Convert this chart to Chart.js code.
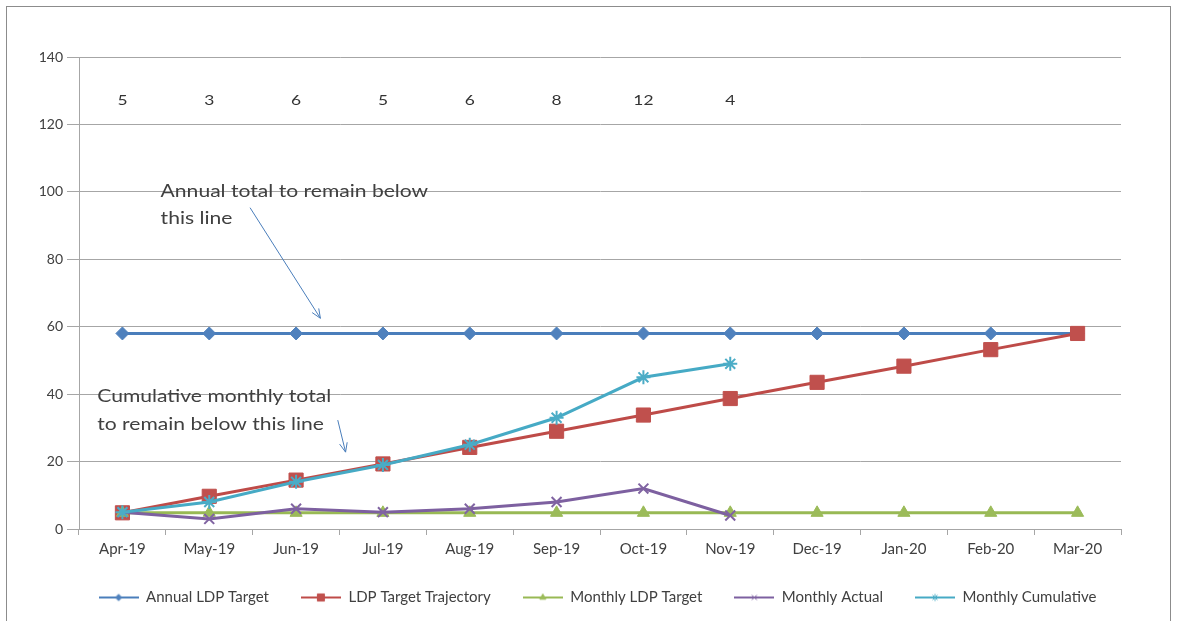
<!DOCTYPE html>
<html>
<head>
<meta charset="utf-8">
<script src="https://cdn.jsdelivr.net/npm/chart.js@4/dist/chart.umd.min.js"></script>
<style>
    html, body { margin: 0; padding: 0; background: #fff; }
    #wrap { position: absolute; left: 0; top: 0; width: 1177px; height: 621px; }
</style>
</head>
<body>
<div id="wrap"><canvas id="ldpChart" width="1177" height="621"></canvas></div>
<script>
const months = ['Apr-19', 'May-19', 'Jun-19', 'Jul-19', 'Aug-19', 'Sep-19',
    'Oct-19', 'Nov-19', 'Dec-19', 'Jan-20', 'Feb-20', 'Mar-20'];
const annualTarget = [58, 58, 58, 58, 58, 58, 58, 58, 58, 58, 58, 58];
const targetTrajectory = [4.8, 9.7, 14.5, 19.3, 24.2, 29, 33.8, 38.7, 43.5, 48.3, 53.2, 58];
const monthlyTarget = [4.8, 4.8, 4.8, 4.8, 4.8, 4.8, 4.8, 4.8, 4.8, 4.8, 4.8, 4.8];
const monthlyActual = [5, 3, 6, 5, 6, 8, 12, 4];
const monthlyCumulative = [5, 8, 14, 19, 25, 33, 45, 49];
const yTicks = [0, 20, 40, 60, 80, 100, 120, 140];
const countRowValue = 127;

const FONT = 'Lato, "Open Sans", sans-serif';
const TEXT = '#404040';
const GRID = '#a6a6a6';
const STRETCH = 1.24; // the reference text is drawn a little wide

const series = [
    { label: 'Annual LDP Target', data: annualTarget, line: '#4A7EBB', fill: '#4F81BD', style: 'rectRot', r: 6.5 },
    { label: 'LDP Target Trajectory', data: targetTrajectory, line: '#BE4B48', fill: '#C0504D', style: 'rect', r: 10 },
    { label: 'Monthly LDP Target', data: monthlyTarget, line: '#98B954', fill: '#9BBB59', style: 'triangle', r: 7 },
    { label: 'Monthly Actual', data: monthlyActual, line: '#7D60A0', fill: '#8064A2', style: 'crossRot', r: 7 },
    { label: 'Monthly Cumulative', data: monthlyCumulative, line: '#46AAC5', fill: '#4BACC6', style: 'star', r: 7 }
];

// small line+marker icon for the legend, like the spreadsheet legend
function legendIcon(s) {
    const c = document.createElement('canvas');
    c.width = 40;
    c.height = 12;
    const ctx = c.getContext('2d');
    ctx.strokeStyle = s.line;
    ctx.lineWidth = 2;
    ctx.beginPath();
    ctx.moveTo(0, 6);
    ctx.lineTo(40, 6);
    ctx.stroke();
    ctx.fillStyle = s.fill;
    ctx.strokeStyle = s.fill;
    ctx.lineWidth = 1;
    Chart.helpers.drawPoint(ctx, { pointStyle: s.style, radius: s.r * 0.5, rotation: 0, borderWidth: 1 }, 20, 6);
    return c;
}

function wideText(ctx, str, x, y, align) {
    ctx.save();
    ctx.translate(x, y);
    ctx.scale(STRETCH, 1);
    ctx.textAlign = align;
    ctx.fillText(str, 0, 0);
    ctx.restore();
}

// count row, annotations, arrows and outer frame
const annotations = {
    id: 'annotations',
    afterLayout(chart) {
        // legend sits centred under the whole frame, not just the plot
        chart.legend.left += 37;
        chart.legend.right += 37;
    },
    beforeDraw(chart) {
        const ctx = chart.ctx;
        ctx.save();
        ctx.strokeStyle = '#8c8c8c';
        ctx.lineWidth = 1;
        ctx.strokeRect(6.5, 6.5, 1164, 700);
        ctx.restore();
    },
    afterDatasetsDraw(chart) {
        const ctx = chart.ctx;
        const x = chart.scales.x;
        const y = chart.scales.y;
        ctx.save();
        ctx.fillStyle = '#333';
        ctx.font = '14px ' + FONT;
        ctx.textBaseline = 'middle';
        monthlyActual.forEach((v, i) => {
            wideText(ctx, String(v), x.getPixelForValue(i), y.getPixelForValue(countRowValue), 'center');
        });

        ctx.fillStyle = TEXT;
        ctx.font = '17px ' + FONT;
        wideText(ctx, 'Annual total to remain below', x.getPixelForValue(0.44), y.getPixelForValue(100), 'left');
        wideText(ctx, 'this line', x.getPixelForValue(0.44), y.getPixelForValue(92), 'left');
        wideText(ctx, 'Cumulative monthly total', x.getPixelForValue(-0.29), y.getPixelForValue(39.2), 'left');
        wideText(ctx, 'to remain below this line', x.getPixelForValue(-0.29), y.getPixelForValue(30.9), 'left');

        const arrow = (x0, y0, x1, y1) => {
            ctx.strokeStyle = '#4A7EBB';
            ctx.lineWidth = 1;
            ctx.beginPath();
            ctx.moveTo(x0, y0);
            ctx.lineTo(x1, y1);
            const a = Math.atan2(y1 - y0, x1 - x0);
            ctx.moveTo(x1, y1);
            ctx.lineTo(x1 - 10 * Math.cos(a - 0.4), y1 - 10 * Math.sin(a - 0.4));
            ctx.moveTo(x1, y1);
            ctx.lineTo(x1 - 10 * Math.cos(a + 0.4), y1 - 10 * Math.sin(a + 0.4));
            ctx.stroke();
        };
        arrow(x.getPixelForValue(1.47), y.getPixelForValue(95.3), x.getPixelForValue(2.28), y.getPixelForValue(62.5));
        arrow(x.getPixelForValue(2.48), y.getPixelForValue(32.3), x.getPixelForValue(2.57), y.getPixelForValue(22.8));
        ctx.restore();
    }
};

const ctx = document.getElementById('ldpChart');
new Chart(ctx, {
    type: 'line',
    data: {
        labels: months,
        datasets: series.map((s, i) => ({
            label: s.label,
            data: s.data,
            borderColor: s.line,
            backgroundColor: s.fill,
            borderWidth: 3,
            pointStyle: s.style,
            pointRadius: s.r,
            pointBackgroundColor: s.fill,
            pointBorderColor: s.fill,
            pointBorderWidth: s.style === 'crossRot' || s.style === 'star' ? 2 : 1,
            tension: 0,
            order: series.length - i
        }))
    },
    options: {
        responsive: false,
        animation: false,
        layout: { padding: { top: 57, right: 56, bottom: 6, left: 0 } },
        scales: {
            x: {
                offset: true,
                grid: { offset: true, drawOnChartArea: false, tickLength: 6, color: GRID },
                border: { color: GRID },
                ticks: { color: TEXT, font: { family: FONT, size: 15 }, padding: 5, maxRotation: 0 },
                afterFit(scale) { scale.height = 29; }
            },
            y: {
                min: 0,
                max: 140,
                afterBuildTicks(scale) { scale.ticks = yTicks.map(v => ({ value: v })); },
                grid: { color: GRID, tickLength: 12 },
                border: { color: GRID },
                ticks: { color: TEXT, font: { family: FONT, size: 14 }, padding: 4 },
                afterFit(scale) { scale.width = 79; }
            }
        },
        plugins: {
            tooltip: { enabled: false },
            legend: {
                position: 'bottom',
                labels: {
                    usePointStyle: true,
                    pointStyleWidth: 40,
                    color: TEXT,
                    font: { family: FONT, size: 15 },
                    padding: 32,
                    sort: (a, b) => a.datasetIndex - b.datasetIndex,
                    generateLabels(chart) {
                        const items = Chart.defaults.plugins.legend.labels.generateLabels(chart);
                        items.forEach(it => { it.pointStyle = legendIcon(series[it.datasetIndex]); });
                        return items;
                    }
                }
            }
        }
    },
    plugins: [annotations]
});
</script>
</body>
</html>
